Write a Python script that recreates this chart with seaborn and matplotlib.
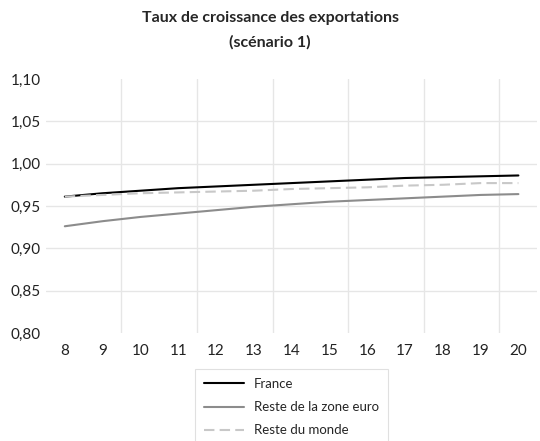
import pandas as pd
import matplotlib.pyplot as plt
import seaborn as sns

# donnees
annees = [8, 9, 10, 11, 12, 13, 14, 15, 16, 17, 18, 19, 20]
france = [0.961, 0.965, 0.968, 0.971, 0.973, 0.975, 0.977, 0.979, 0.981, 0.983, 0.984, 0.985, 0.986]
zone_euro = [0.926, 0.932, 0.937, 0.941, 0.945, 0.949, 0.952, 0.955, 0.957, 0.959, 0.961, 0.963, 0.964]
monde = [0.961, 0.963, 0.965, 0.966, 0.967, 0.968, 0.970, 0.971, 0.972, 0.974, 0.975, 0.977, 0.977]
series = ['France', 'Reste de la zone euro', 'Reste du monde']

df = pd.DataFrame({'annee': annees * 3,
                   'valeur': france + zone_euro + monde,
                   'serie': [s for s in series for _ in annees]})

sns.set_style('white')
plt.rcParams['font.family'] = ['Lato', 'DejaVu Sans']

fig = plt.figure(figsize=(5.4, 4.41), dpi=100)
ax = fig.add_axes([0.085, 0.245, 0.91, 0.576])

sns.lineplot(data=df, x='annee', y='valeur', hue='serie', style='serie',
             palette=['#000000', '#8c8c8c', '#c8c8c8'],
             dashes=[(None, None), (None, None), (5, 2.5)],
             linewidth=1.5, ax=ax)

ax.set_xlim(7.5, 20.5)
ax.set_ylim(0.80, 1.10)
ax.set_xticks(annees)
ax.set_yticks([0.80, 0.85, 0.90, 0.95, 1.00, 1.05, 1.10])
ax.set_yticklabels([f'{v:.2f}'.replace('.', ',') for v in ax.get_yticks()])
ax.tick_params(axis='both', length=0, labelsize=11, colors='#222222')
ax.tick_params(axis='x', pad=8)

# grilles
for y in [0.85, 0.90, 0.95, 1.00, 1.05]:
    ax.axhline(y, color='#e6e6e6', lw=1, zorder=0)
for x in [9.5, 11.5, 13.5, 15.5, 17.5, 19.5]:
    ax.axvline(x, color='#e6e6e6', lw=1, zorder=0)
for s in ax.spines.values():
    s.set_visible(False)
ax.set_xlabel('')
ax.set_ylabel('')

fig.suptitle('Taux de croissance des exportations\n(scénario 1)', fontsize=11.5,
             fontweight='bold', y=0.975, linespacing=1.9)

leg = ax.legend(loc='upper center', bbox_to_anchor=(0.5, -0.115), ncol=1,
                frameon=True, fontsize=9.5, fancybox=False, handlelength=3,
                borderpad=0.7, labelspacing=0.85)
leg.get_frame().set_edgecolor('#d9d9d9')
leg.get_frame().set_linewidth(0.8)

fig.savefig('out.png', dpi=100)
